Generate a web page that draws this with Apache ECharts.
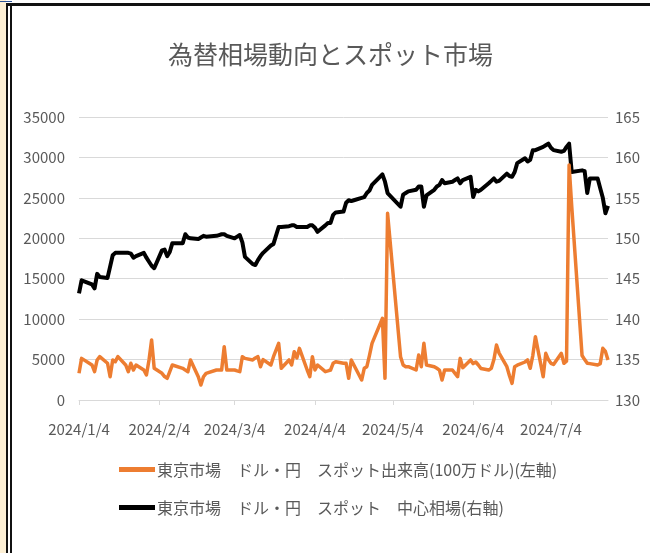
<!DOCTYPE html>
<html><head><meta charset="utf-8">
<script src="https://cdn.jsdelivr.net/npm/echarts@6/dist/echarts.min.js"></script>
<style>html,body{margin:0;padding:0;background:#fff}#c{width:650px;height:553px}</style>
</head><body><div id="c"></div>
<script>
const titleText = '為替相場動向とスポット市場';
const seriesNames = ['東京市場　ドル・円　スポット出来高(100万ドル)(左軸)', '東京市場　ドル・円　スポット　中心相場(右軸)'];
const axisStart = '2024/1/4';
const axisEnd = '2024/7/26';
const leftTicks = {min: 0, max: 35000, interval: 5000};
const rightTicks = {min: 130, max: 165, interval: 5};

const dates = [
 '2024/1/4','2024/1/5','2024/1/9','2024/1/10','2024/1/11','2024/1/12','2024/1/15','2024/1/16','2024/1/17','2024/1/18','2024/1/19','2024/1/22','2024/1/23','2024/1/24','2024/1/25','2024/1/26','2024/1/29','2024/1/30','2024/1/31',
 '2024/2/1','2024/2/2','2024/2/5','2024/2/6','2024/2/7','2024/2/8','2024/2/9','2024/2/13','2024/2/14','2024/2/15','2024/2/16','2024/2/19','2024/2/20','2024/2/21','2024/2/22','2024/2/26','2024/2/27','2024/2/28','2024/2/29',
 '2024/3/1','2024/3/4','2024/3/5','2024/3/6','2024/3/7','2024/3/8','2024/3/11','2024/3/12','2024/3/13','2024/3/14','2024/3/15','2024/3/18','2024/3/19','2024/3/21','2024/3/22','2024/3/25','2024/3/26','2024/3/27','2024/3/28','2024/3/29',
 '2024/4/1','2024/4/2','2024/4/3','2024/4/4','2024/4/5','2024/4/8','2024/4/9','2024/4/10','2024/4/11','2024/4/12','2024/4/15','2024/4/16','2024/4/17','2024/4/18','2024/4/19','2024/4/22','2024/4/23','2024/4/24','2024/4/25','2024/4/26','2024/4/30',
 '2024/5/1','2024/5/2','2024/5/7','2024/5/8','2024/5/9','2024/5/10','2024/5/13','2024/5/14','2024/5/15','2024/5/16','2024/5/17','2024/5/20','2024/5/21','2024/5/22','2024/5/23','2024/5/24','2024/5/27','2024/5/28','2024/5/29','2024/5/30','2024/5/31',
 '2024/6/3','2024/6/4','2024/6/5','2024/6/6','2024/6/7','2024/6/10','2024/6/11','2024/6/12','2024/6/13','2024/6/14','2024/6/17','2024/6/18','2024/6/19','2024/6/20','2024/6/21','2024/6/24','2024/6/25','2024/6/26','2024/6/27','2024/6/28',
 '2024/7/1','2024/7/2','2024/7/3','2024/7/4','2024/7/5','2024/7/8','2024/7/9','2024/7/10','2024/7/11','2024/7/12','2024/7/16','2024/7/17','2024/7/18','2024/7/19','2024/7/22','2024/7/23','2024/7/24','2024/7/25','2024/7/26'
];

const volume = [
 3300,5150,4330,3500,4950,5360,4540,2880,4950,4740,5360,4330,3500,4540,3710,4330,3710,3090,4950,
 7420,3920,3300,2900,2680,3500,4330,3920,3700,3500,4950,2880,1850,2880,3300,3710,3710,3710,6590,
 3710,3710,3600,3500,5360,5150,4950,5200,5360,4120,5000,4330,5360,7010,3920,4950,4330,5980,5200,6390,
 3710,2880,5360,3710,4330,3500,3600,3710,4540,4740,4540,4540,2680,4950,4330,2470,3920,4120,5500,7010,10100,
 2680,23090,5360,4330,4120,4120,3710,5570,4120,7010,4330,4120,3920,3700,2470,3710,3710,3300,2880,5150,4000,
 4950,4500,4700,4330,3900,3700,3920,5000,6800,5800,4120,3000,2060,4120,4300,4700,4950,3920,5500,7830,
 2880,5770,5000,4540,4400,5770,4540,4800,29060,24000,5500,5000,4540,4500,4330,4500,6390,6000,4950
];

const centralRate = [
 143.2,144.8,144.3,143.8,145.6,145.2,145.1,146.5,147.9,148.2,148.2,148.2,148.2,148.1,147.6,147.8,148.2,147.6,147.1,
 146.6,146.3,148.5,148.6,147.8,148.3,149.4,149.4,150.5,150.1,150.0,149.9,150.1,150.3,150.2,150.3,150.4,150.5,150.5,
 150.3,150.0,150.2,150.4,149.5,147.7,146.8,146.7,147.3,147.8,148.2,149.1,149.3,151.4,151.4,151.5,151.6,151.6,151.4,151.4,
 151.4,151.6,151.6,151.3,150.8,151.6,151.9,151.9,152.9,153.2,153.3,154.4,154.7,154.6,154.7,155.0,155.1,155.6,155.9,156.6,157.9,
 157.0,155.6,153.9,155.4,155.6,155.8,156.0,156.4,156.4,153.9,155.3,156.0,156.4,156.6,157.2,156.8,157.0,157.2,157.4,156.8,157.2,
 157.6,155.1,156.0,155.8,156.0,156.8,157.1,157.4,157.0,157.1,158.0,157.7,157.6,158.2,159.3,159.9,159.5,159.7,160.9,160.9,
 161.3,161.5,161.7,161.2,160.9,160.7,160.8,161.3,161.7,158.2,158.4,158.3,155.6,157.4,157.4,156.2,155.0,153.1,154.0
];

// calendar-day category axis (axis scaffolding only)
function parseD(s){const p=s.split('/').map(Number);return new Date(Date.UTC(p[0],p[1]-1,p[2]));}
function fmt(d){return d.getUTCFullYear()+'/'+(d.getUTCMonth()+1)+'/'+d.getUTCDate();}
const cats=[];
for(let t=parseD(axisStart).getTime(); t<=parseD(axisEnd).getTime(); t+=86400000){cats.push(fmt(new Date(t)));}
const idx={}; cats.forEach((c,i)=>idx[c]=i);
const volArr=cats.map(()=>null), rateArr=cats.map(()=>null);
dates.forEach((d,i)=>{volArr[idx[d]]=volume[i]; rateArr[idx[d]]=centralRate[i];});
const isTick=(i,v)=>v.split('/')[2]==='4';

const FONT='"Noto Sans CJK JP","Noto Sans",sans-serif';
const GRAY='#595959';
const chart=echarts.init(document.getElementById('c'),null,{renderer:'canvas'});
chart.setOption({
  backgroundColor:'#ffffff',
  animation:false,
  textStyle:{fontFamily:FONT},
  title:{text:titleText,left:168,top:42,padding:0,textStyle:{fontFamily:FONT,fontSize:25,fontWeight:'normal',color:GRAY}},
  grid:{left:79,right:42,top:117,bottom:153,containLabel:false},
  legend:{orient:'vertical',left:119,top:461,padding:0,itemWidth:36,itemHeight:5,itemGap:21,icon:'rect',
    textStyle:{fontFamily:FONT,fontSize:16,color:GRAY,lineHeight:17,padding:[0,0,0,-3]},
    data:[{name:seriesNames[0],itemStyle:{color:'#ED7D31'}},{name:seriesNames[1],itemStyle:{color:'#000000'}}]},
  xAxis:{type:'category',data:cats,boundaryGap:false,
    axisLine:{lineStyle:{color:'#d9d9d9',width:1}},
    axisTick:{show:true,interval:isTick,length:5,lineStyle:{color:'#d9d9d9'}},
    axisLabel:{interval:isTick,color:GRAY,fontSize:15,fontFamily:FONT,margin:22},
    splitLine:{show:false}},
  yAxis:[
    {type:'value',min:leftTicks.min,max:leftTicks.max,interval:leftTicks.interval,
     axisLine:{show:false},axisTick:{show:false},
     axisLabel:{color:GRAY,fontSize:15,fontFamily:FONT,margin:14,formatter:v=>String(v)},
     splitLine:{lineStyle:{color:'#d9d9d9',width:1}}},
    {type:'value',min:rightTicks.min,max:rightTicks.max,interval:rightTicks.interval,position:'right',
     axisLine:{show:false},axisTick:{show:false},
     axisLabel:{color:GRAY,fontSize:15,fontFamily:FONT,margin:7,formatter:v=>String(v)},
     splitLine:{show:false}}
  ],
  series:[
    {name:seriesNames[0],type:'line',yAxisIndex:0,data:volArr,connectNulls:true,showSymbol:false,symbol:'none',
     lineStyle:{color:'#ED7D31',width:3.5,join:'round'},itemStyle:{color:'#ED7D31'},z:3},
    {name:seriesNames[1],type:'line',yAxisIndex:1,data:rateArr,connectNulls:true,showSymbol:false,symbol:'none',
     lineStyle:{color:'#000000',width:4,join:'round'},itemStyle:{color:'#000000'},z:2}
  ],
  graphic:[
    {type:'rect',left:0,top:0,shape:{width:6,height:553},style:{fill:'#fdf0d5'},silent:true},
    {type:'rect',left:6,top:3,shape:{width:2,height:550},style:{fill:'#111'},silent:true},
    {type:'rect',left:10,top:5,shape:{width:2,height:548},style:{fill:'#111'},silent:true},
    {type:'rect',left:6,top:3,shape:{width:644,height:3},style:{fill:'#111'},silent:true},
    {type:'rect',left:0,top:1,shape:{width:12,height:1},style:{fill:'#2f5597'},silent:true}
  ]
});
</script></body></html>
